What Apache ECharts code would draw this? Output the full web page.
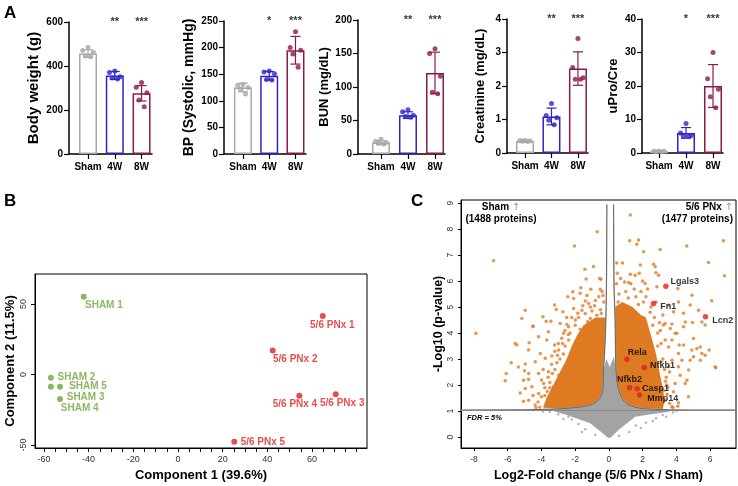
<!DOCTYPE html>
<html><head><meta charset="utf-8">
<script src="https://cdn.jsdelivr.net/npm/echarts@6/dist/echarts.min.js"></script>
<style>html,body{margin:0;padding:0;background:#fff}#c{width:738px;height:486px}</style>
</head><body><div id="c"></div>
<script>
const FONT = 'Liberation Sans, Arial, sans-serif';

// ---------- Panel A data ----------
const groups = ['Sham', '4W', '8W'];
const groupColors = ['#a8a8a8', '#3024c8', '#8b1a4b'];
const jitter = [0, -0.2, 0.2, -0.1, 0.1];

const bwMean = [457, 357, 276];
const bwSD = [17, 18, 35];
const bwPts = [[485, 470, 462, 445, 442], [377, 370, 351, 345, 341], [325, 303, 278, 245, 215]];
const bwStars = ['', '**', '***'];

const bpMean = [125, 147, 195];
const bpSD = [8, 8, 26];
const bpPts = [[131, 129, 125, 122, 113], [156, 154, 151, 140, 139], [230, 200, 195, 188, 163]];
const bpStars = ['', '*', '***'];

const bunMean = [17, 58, 121];
const bunSD = [3, 5, 31];
const bunPts = [[22, 19, 17, 16, 15], [66, 63, 58, 56, 55], [157, 150, 116, 92, 90]];
const bunStars = ['', '**', '***'];

const crMean = [0.36, 1.09, 2.52];
const crSD = [0.03, 0.25, 0.5];
const crPts = [[0.38, 0.37, 0.36, 0.35, 0.34], [1.48, 1.12, 1.05, 0.98, 0.84], [3.42, 2.55, 2.25, 2.2, 2.2]];
const crStars = ['', '**', '***'];

const upMean = [0.5, 6, 20];
const upSD = [0.2, 1.6, 6.4];
const upPts = [[0.6, 0.5, 0.5, 0.4, 0.4], [8.8, 6, 5.2, 5.1, 5], [30, 22.2, 19, 16.8, 13.5]];
const upStars = ['', '*', '***'];

const titlesA = ['Body weight (g)', 'BP (Systolic, mmHg)', 'BUN (mg/dL)', 'Creatinine (mg/dL)', 'uPro/Cre'];
const maxA = [600, 250, 200, 4, 40];
const intervalA = [200, 50, 50, 1, 10];

// ---------- Panel B data ----------
const shamNames = ['SHAM 1', 'SHAM 2', 'SHAM 3', 'SHAM 4', 'SHAM 5'];
const shamX = [-42.2, -56.9, -52.8, -56.9, -52.8];
const shamY = [55.2, -2.3, -17.4, -8.6, -8.6];
const pnxNames = ['5/6 PNx 1', '5/6 PNx 2', '5/6 PNx 3', '5/6 PNx 4', '5/6 PNx 5'];
const pnxX = [64.8, 42.4, 70.6, 54.3, 25.2];
const pnxY = [41.5, 17.0, -13.9, -15.1, -47.6];
const pcaXTicks = [-60, -55, -50, -45, -40, -35, -30, -25, -20, -15, -10, -5, 0, 5, 10, 15, 20, 25, 30, 35, 40, 45, 50, 55, 60, 65, 70, 75, 80];
const pcaXLabels = [-60, -40, -20, 0, 20, 40, 60];
const pcaYLabels = [-50, 0, 50];

// ---------- Panel C data ----------
const fdrLevel = 1.04;
const curveLeft = [[-0.12, 8.95], [-0.14, 6], [-0.18, 4.5], [-0.25, 3.3], [-0.32, 2.58], [-0.37, 1.74], [-0.61, 1.42], [-1.1, 1.23], [-1.9, 1.14], [-3.08, 1.08], [-5.06, 1.05], [-8.77, 1.04]];
const curveRight = [[0.28, 8.95], [0.3, 6], [0.37, 4.5], [0.42, 2.58], [0.53, 1.94], [0.77, 1.49], [1.17, 1.23], [1.96, 1.1], [3.54, 1.05], [7.54, 1.04]];
const grayCloud = [[-0.05, -0.03], [-0.35, 0.14], [-1.1, 0.53], [-2.5, 0.85], [-3.3, 1.0], [-3.08, 1.08], [-1.9, 1.14], [-1.1, 1.23], [-0.61, 1.42], [-0.37, 1.74], [-0.32, 2.58], [-0.15, 3.0], [0.05, 2.7], [0.3, 3.1], [0.42, 2.58], [0.53, 1.94], [0.77, 1.49], [1.17, 1.23], [1.96, 1.1], [3.54, 1.04], [3.6, 0.97], [2.5, 0.88], [1.56, 0.78], [0.57, 0.27], [0.1, -0.03]];
const grayPts = [[-3.5, 0.97], [-3.0, 0.88], [-2.7, 0.7], [-2.2, 0.68], [-1.8, 0.5], [-1.4, 0.3], [3.8, 0.95], [3.2, 0.85], [2.8, 0.72], [2.2, 0.55], [1.6, 0.45], [1.2, 0.2], [-0.8, 0.08], [0.6, 0.05], [-2.9, 1.0], [4.0, 1.0], [-3.9, 0.98], [-2.4, 0.78], [2.6, 0.62], [3.4, 0.78], [-1.6, 0.2], [1.9, 0.35]];
const denseLeft = [[-0.18, 4.6], [-0.8, 4.6], [-1.5, 4.3], [-1.9, 3.9], [-2.2, 3.5], [-2.5, 3.0], [-2.9, 2.5], [-3.3, 2.0], [-3.7, 1.5], [-3.9, 1.15], [-3.08, 1.08], [-1.9, 1.14], [-1.1, 1.23], [-0.61, 1.42], [-0.37, 1.74], [-0.32, 2.58], [-0.25, 3.3], [-0.18, 4.5]];
const denseRight = [[0.37, 5.0], [0.8, 5.2], [1.4, 5.0], [1.9, 4.7], [2.2, 4.6], [2.5, 3.9], [2.8, 3.2], [3.0, 2.5], [3.2, 1.9], [3.3, 1.4], [3.2, 1.08], [1.96, 1.1], [1.17, 1.23], [0.77, 1.49], [0.53, 1.94], [0.42, 2.58], [0.37, 4.5]];
const orangePts = [
  [-7.89, 3.99], [-6.84, 6.78], [-5.56, 3.6], [-5.46, 3.54], [-5.79, 2.86], [-6.09, 2.45], [-6.15, 2.17], [-4.96, 2.81], [-5.0, 2.55], [-4.73, 3.63], [-4.51, 4.24], [-5.26, 1.7], [-5.06, 1.38], [-4.76, 2.22], [-4.33, 1.13], [-4.96, 1.87],
  [-2.04, 7.35], [-0.69, 7.9], [-1.42, 6.46], [-0.91, 6.56], [-1.35, 6.08], [-0.55, 6.1], [-0.47, 6.07], [-1.66, 5.74], [-0.51, 5.69], [-1.07, 5.69], [-2.14, 5.59], [-1.7, 5.53], [-2.43, 5.4], [-2.09, 5.33], [-1.4, 5.23], [-1.2, 5.14], [-3.22, 5.08], [-3.12, 4.91], [-2.73, 4.82], [-4.96, 4.88], [-2.09, 4.95], [-1.84, 4.76], [-1.6, 4.88], [-5.16, 4.56], [-3.91, 4.63], [-3.72, 4.46], [-3.44, 4.46], [-2.49, 4.33], [-1.1, 4.56], [-0.91, 4.46], [-0.71, 4.69],
  [-4.49, 4.27], [-3.58, 4.05], [-4.17, 3.86], [-3.68, 3.73], [-3.22, 3.54], [-2.98, 3.35], [-4.07, 3.22], [-3.77, 3.03], [-3.38, 3.12], [-4.76, 3.35], [-4.37, 2.9], [-3.08, 2.86], [-4.17, 2.45], [-3.58, 2.51], [-2.98, 2.38], [-3.87, 2.06], [-3.28, 1.94], [-4.57, 1.94], [-4.17, 1.68], [-3.58, 1.49], [-4.76, 1.42], [-4.37, 1.23], [-3.28, 1.29], [-3.77, 1.17], [-2.69, 3.99], [-2.39, 4.24], [-2.89, 4.37], [-1.99, 4.5], [-4.76, 2.45], [-5.06, 2.19], [-5.36, 2.7], [-2.39, 3.73],
  [-2.6, 4.1], [-2.8, 3.8], [-3.0, 3.6], [-3.2, 3.3], [-3.4, 2.8], [-3.6, 2.3], [-3.8, 1.9], [-4.0, 1.55], [-4.2, 1.35], [-2.4, 3.95], [-2.0, 4.3], [-1.8, 4.6], [-1.4, 4.75], [-1.0, 4.85], [-0.5, 4.9], [-0.3, 5.2], [-0.6, 5.4], [-1.1, 5.0], [-2.7, 3.2], [-3.9, 2.6], [-4.5, 1.6], [-4.0, 2.2], [-3.1, 1.7], [-3.5, 1.9], [-2.5, 4.6], [-0.4, 5.6], [-0.8, 5.25], [-1.3, 5.45],
  [-2.3, 4.0], [-2.6, 3.5], [-2.9, 3.0], [-3.2, 2.6], [-3.5, 2.1], [-3.8, 1.6], [-4.1, 1.15], [-2.75, 3.6], [-3.05, 3.15], [-3.35, 2.45], [-3.65, 1.75], [-1.7, 4.15], [-1.25, 4.45], [-0.45, 4.75], [-2.2, 4.6], [-1.55, 5.05], [-0.85, 5.05], [-0.35, 5.45],
  [1.27, 8.54], [1.23, 7.55], [1.76, 7.58], [1.66, 7.42], [2.06, 7.13], [3.04, 7.22], [4.62, 7.35], [6.8, 7.55], [6.86, 6.21], [5.91, 6.72], [0.47, 6.7], [0.81, 6.7], [1.86, 6.62], [2.65, 6.65], [2.75, 6.55], [1.27, 6.26], [1.56, 6.23], [0.93, 5.97], [1.17, 5.95], [1.8, 6.3], [2.79, 6.32], [2.95, 6.23], [2.85, 5.78], [2.15, 5.91], [4.09, 5.72], [4.82, 5.08], [4.92, 5.46], [5.32, 4.88], [5.71, 4.31], [4.13, 5.2], [3.54, 5.08], [3.84, 4.82], [4.43, 4.76], [4.53, 4.43], [4.96, 4.41], [6.1, 5.24], [5.02, 3.79], [5.95, 3.35], [6.34, 2.67], [4.92, 3.35], [4.43, 3.54], [4.13, 3.22], [4.82, 2.96], [3.74, 3.73], [4.03, 3.99], [3.64, 4.18], [3.34, 4.37], [4.43, 4.24], [4.23, 2.38], [3.93, 2.06], [4.53, 2.06], [3.83, 1.74], [4.72, 1.55], [4.13, 1.32], [3.74, 1.17], [3.34, 1.42], [5.42, 3.47], [5.42, 2.96], [5.71, 3.15], [3.24, 4.31], [3.74, 4.35], [5.52, 4.43], [4.17, 3.54], [5.22, 3.41], [5.52, 3.22], [5.02, 3.09], [4.13, 2.71], [4.73, 2.58], [4.63, 2.19], [4.33, 2.96], [6.3, 2.71], [4.09, 1.19], [3.8, 1.14], [3.44, 2.0], [3.24, 1.78], [3.14, 1.55], [3.93, 3.99], [3.34, 3.73], [3.54, 3.47], [3.74, 2.96], [3.54, 2.71],
  [2.9, 4.0], [3.1, 3.6], [3.2, 3.0], [3.3, 2.6], [3.4, 2.3], [3.5, 1.9], [3.0, 4.4], [2.7, 4.6], [2.5, 5.0], [2.2, 5.4], [1.9, 5.6], [1.5, 5.7], [1.0, 5.6], [0.6, 5.5], [0.45, 5.9], [0.7, 6.1], [1.3, 5.9], [2.0, 6.0], [2.3, 5.7], [0.5, 6.3], [1.6, 5.4], [2.8, 5.2], [3.2, 4.7], [3.6, 1.3],
  [2.6, 4.3], [2.9, 3.5], [3.1, 2.9], [3.35, 2.15], [3.45, 1.65], [2.45, 4.8], [2.05, 5.2], [1.15, 5.35], [0.55, 5.2], [1.75, 5.1], [3.05, 4.1], [3.6, 2.5]
];
const geneNames = ['Lgals3', 'Fn1', 'Lcn2', 'Rela', 'Nfkb1', 'Nfkb2', 'Casp1', 'Mmp14'];
const geneX = [3.38, 2.65, 5.73, 1.07, 2.1, 1.23, 1.68, 1.82];
const geneY = [5.8, 5.14, 4.63, 2.99, 2.68, 1.9, 1.86, 1.62];
const volcXLabels = [-8, -6, -4, -2, 0, 2, 4, 6];
const volcYLabels = [0, 1, 2, 3, 4, 5, 6, 7, 8, 9];

// ---------- layout (positions / styles) ----------
const gridA = [
  {left: 69, right: 586, top: 22, bottom: 332, xmin: -0.71, xmax: 2.39, nameSize: 15, nameGap: 28},
  {left: 224, right: 432, top: 21, bottom: 332, xmin: -0.72, xmax: 2.4, nameSize: 14, nameGap: 28},
  {left: 358, right: 293, top: 20, bottom: 332, xmin: -0.85, xmax: 2.37, nameSize: 13, nameGap: 24},
  {left: 507, right: 150, top: 19, bottom: 333, xmin: -0.68, xmax: 2.38, nameSize: 13, nameGap: 20},
  {left: 642, right: 15, top: 19, bottom: 333, xmin: -0.63, xmax: 2.37, nameSize: 13, nameGap: 22}
];
const shamLabelOff = [[-1.7, 8.3], [3.7, -1], [3.7, -2.3], [7, 21.6], [6, 0]];
const pnxLabelOff = [[-15.7, 9.7], [-2.7, 9], [-18.7, 8.7], [-29.6, 8.3], [3.4, 1]];
const genePos = ['right', 'right', 'right', 'right', 'right', 'top', 'right', 'right'];
const geneOff = [[1, -5], [3, 3], [3, 4], [-3, -7], [2, -2], [0, 0], [1, 0], [4, 4]];

const meansA = [bwMean, bpMean, bunMean, crMean, upMean];
const sdA = [bwSD, bpSD, bunSD, crSD, upSD];
const ptsA = [bwPts, bpPts, bunPts, crPts, upPts];
const starsA = [bwStars, bpStars, bunStars, crStars, upStars];

const grids = [], xAxes = [], yAxes = [], series = [];

function errRender(params, api) {
  const x = api.value(0), lo = api.value(1), hi = api.value(2);
  const a = api.coord([x, hi]), b = api.coord([x, lo]);
  const c = groupColors[params.dataIndex];
  const w = 5, st = {stroke: c, lineWidth: 1.2, fill: 'none'};
  return {type: 'group', children: [
    {type: 'line', shape: {x1: a[0], y1: a[1], x2: b[0], y2: b[1]}, style: st},
    {type: 'line', shape: {x1: a[0] - w, y1: a[1], x2: a[0] + w, y2: a[1]}, style: st},
    {type: 'line', shape: {x1: b[0] - w, y1: b[1], x2: b[0] + w, y2: b[1]}, style: st}
  ]};
}

gridA.forEach((g, p) => {
  grids.push({left: g.left, right: g.right, top: g.top, bottom: g.bottom, containLabel: false, outerBoundsMode: 'none'});
  xAxes.push({gridIndex: p, type: 'value', min: g.xmin, max: g.xmax,
    axisLine: {show: true, onZero: false, lineStyle: {color: '#000', width: 1.5}},
    axisTick: {show: true, length: 5, lineStyle: {color: '#000', width: 1.2}, customValues: [0, 1, 2]},
    axisLabel: {customValues: [0, 1, 2], formatter: v => groups[Math.round(v)], color: '#000', fontWeight: 'bold', fontSize: 10, fontFamily: FONT, margin: 8},
    splitLine: {show: false}});
  yAxes.push({gridIndex: p, type: 'value', min: 0, max: maxA[p], interval: intervalA[p],
    name: titlesA[p], nameLocation: 'middle', nameRotate: 90, nameGap: g.nameGap,
    nameTextStyle: {fontWeight: 'bold', fontSize: g.nameSize, color: '#000', fontFamily: FONT},
    axisLine: {show: true, onZero: false, lineStyle: {color: '#000', width: 1.5}},
    axisTick: {show: true, length: 5, lineStyle: {color: '#000', width: 1.2}},
    axisLabel: {color: '#000', fontWeight: 'bold', fontSize: 10, fontFamily: FONT, margin: 6},
    splitLine: {show: false}});
  const mean = meansA[p], sd = sdA[p], pts = ptsA[p], stars = starsA[p];
  series.push({type: 'bar', xAxisIndex: p, yAxisIndex: p, barWidth: 18, silent: true,
    data: mean.map((m, i) => ({value: [i, m], itemStyle: {color: 'rgba(255,255,255,0)', borderColor: groupColors[i], borderWidth: 1.5}}))});
  series.push({type: 'custom', xAxisIndex: p, yAxisIndex: p, renderItem: errRender, z: 3,
    data: mean.map((m, i) => [i, m - sd[i], m + sd[i]])});
  pts.forEach((arr, i) => {
    series.push({type: 'scatter', xAxisIndex: p, yAxisIndex: p, symbolSize: 5, z: 4,
      itemStyle: {color: groupColors[i]},
      data: arr.map((v, k) => [i + jitter[k], v])});
  });
  series.push({type: 'scatter', xAxisIndex: p, yAxisIndex: p, symbolSize: 0, clip: false,
    data: stars.map((s, i) => ({value: [i, maxA[p]], label: {show: !!s, formatter: s, position: 'inside', offset: [0, 0], color: '#000', fontWeight: 'bold', fontSize: 11, fontFamily: FONT}}))});
});

// ---------- Panel B ----------
const gB = grids.length;
grids.push({left: 35, right: 371, top: 274, bottom: 38, show: true, borderColor: '#000', borderWidth: 1, backgroundColor: 'transparent', outerBoundsMode: 'none'});
xAxes.push({gridIndex: gB, type: 'value', min: -64, max: 84.6,
  name: 'Component 1 (39.6%)', nameLocation: 'middle', nameGap: 21,
  nameTextStyle: {fontWeight: 'bold', fontSize: 13, color: '#000', fontFamily: FONT},
  axisLine: {show: true, onZero: false, lineStyle: {color: '#000', width: 1}},
  axisTick: {show: true, length: 4, customValues: pcaXTicks, lineStyle: {color: '#000'}},
  axisLabel: {customValues: pcaXLabels, color: '#333', fontSize: 9, fontFamily: FONT, margin: 7},
  splitLine: {show: false}});
yAxes.push({gridIndex: gB, type: 'value', min: -52.1, max: 71.3,
  name: 'Component 2 (11.5%)', nameLocation: 'middle', nameRotate: 90, nameGap: 18,
  nameTextStyle: {fontWeight: 'bold', fontSize: 13, color: '#000', fontFamily: FONT},
  axisLine: {show: true, onZero: false, lineStyle: {color: '#000', width: 1}},
  axisTick: {show: true, length: 4, customValues: pcaYLabels, lineStyle: {color: '#000'}},
  axisLabel: {customValues: pcaYLabels, rotate: 90, color: '#333', fontSize: 9, fontFamily: FONT, margin: 7},
  splitLine: {show: false}});
const labB = (c) => ({show: true, position: 'right', distance: 0, color: c, fontWeight: 'bold', fontSize: 10, fontFamily: FONT});
series.push({type: 'scatter', xAxisIndex: gB, yAxisIndex: gB, symbolSize: 6, itemStyle: {color: '#6fa53b'},
  data: shamNames.map((n, i) => ({value: [shamX[i], shamY[i]], name: n, label: Object.assign(labB('#6fa53b'), {formatter: n, offset: shamLabelOff[i]})}))});
series.push({type: 'scatter', xAxisIndex: gB, yAxisIndex: gB, symbolSize: 6, itemStyle: {color: '#e0201f'},
  data: pnxNames.map((n, i) => ({value: [pnxX[i], pnxY[i]], name: n, label: Object.assign(labB('#e0201f'), {formatter: n, offset: pnxLabelOff[i]})}))});

// ---------- Panel C ----------
const gC = grids.length;
grids.push({left: 461, right: 2, top: 200, bottom: 38, show: true, borderColor: '#000', borderWidth: 1, backgroundColor: 'transparent', outerBoundsMode: 'none'});
xAxes.push({gridIndex: gC, type: 'value', min: -8.77, max: 7.54,
  name: 'Log2-Fold change (5/6 PNx / Sham)', nameLocation: 'middle', nameGap: 20,
  nameTextStyle: {fontWeight: 'bold', fontSize: 12.5, color: '#000', fontFamily: FONT},
  axisLine: {show: true, onZero: false, lineStyle: {color: '#000', width: 1}},
  axisTick: {show: true, length: 3, customValues: volcXLabels, lineStyle: {color: '#000'}},
  axisLabel: {customValues: volcXLabels, color: '#333', fontSize: 8.5, fontFamily: FONT, margin: 7},
  splitLine: {show: false}});
yAxes.push({gridIndex: gC, type: 'value', min: -0.42, max: 9.12,
  name: '-Log10 (p-value)', nameLocation: 'middle', nameRotate: 90, nameGap: 8,
  nameTextStyle: {fontWeight: 'bold', fontSize: 12.5, color: '#000', fontFamily: FONT},
  axisLine: {show: true, onZero: false, lineStyle: {color: '#000', width: 1}},
  axisTick: {show: true, length: 3, customValues: volcYLabels, lineStyle: {color: '#000'}},
  axisLabel: {customValues: volcYLabels, rotate: 90, color: '#333', fontSize: 8.5, fontFamily: FONT, margin: 6},
  splitLine: {show: false}});

function polySeries(poly, fill, z) {
  return {type: 'custom', xAxisIndex: gC, yAxisIndex: gC, z: z, silent: true, clip: true,
    data: [[poly[0][0], poly[0][1]]],
    renderItem: (params, api) => ({type: 'polygon', shape: {points: poly.map(p => api.coord(p))}, style: {fill: fill, stroke: 'none'}})};
}
function curveSeries(pts, color, width, z) {
  return {type: 'custom', xAxisIndex: gC, yAxisIndex: gC, z: z, silent: true, clip: true,
    data: [[pts[0][0], pts[0][1]]],
    renderItem: (params, api) => ({type: 'polyline', shape: {points: pts.map(p => api.coord(p)), smooth: 0.25}, style: {fill: 'none', stroke: color, lineWidth: width}})};
}
series.push(polySeries(grayCloud, '#a3a3a3', 1));
series.push({type: 'scatter', xAxisIndex: gC, yAxisIndex: gC, symbolSize: 2.5, z: 1, itemStyle: {color: '#a3a3a3'}, data: grayPts});
series.push(polySeries(denseLeft, '#dd7a22', 2));
series.push(polySeries(denseRight, '#dd7a22', 2));
series.push({type: 'scatter', xAxisIndex: gC, yAxisIndex: gC, symbolSize: 3.5, z: 2, itemStyle: {color: '#e07c23'}, data: orangePts,
  markLine: {silent: true, symbol: 'none', label: {show: false}, lineStyle: {color: '#888', width: 1, type: 'solid'}, data: [{yAxis: fdrLevel}]}});
series.push(curveSeries(curveLeft, '#b4b4b4', 1.3, 3));
series.push(curveSeries(curveRight, '#b4b4b4', 1.3, 3));
series.push(curveSeries(curveLeft, '#333', 0.6, 3));
series.push(curveSeries(curveRight, '#333', 0.6, 3));
series.push({type: 'scatter', xAxisIndex: gC, yAxisIndex: gC, symbolSize: 5.5, z: 5, itemStyle: {color: '#e0201f'},
  data: geneNames.map((n, i) => ({value: [geneX[i], geneY[i]], label: {show: true, formatter: n, position: genePos[i], distance: 1, offset: geneOff[i], color: '#000', fontWeight: 'bold', fontSize: 9, fontFamily: FONT}}))});

const txt = (x, y, text, o) => ({type: 'text', left: x, top: y, style: Object.assign({text: text, fill: '#000', font: 'bold 10px ' + FONT}, o || {})});

const option = {
  animation: false,
  grid: grids, xAxis: xAxes, yAxis: yAxes, series: series,
  graphic: [
    txt(4, 5, 'A', {font: 'bold 17px ' + FONT}),
    txt(4, 193, 'B', {font: 'bold 17px ' + FONT}),
    txt(411, 193, 'C', {font: 'bold 17px ' + FONT}),
    {type: 'text', x: 501, y: 207, style: {text: '{b|Sham }{g|↑}', align: 'center', verticalAlign: 'middle', rich: {b: {font: 'bold 10px ' + FONT, fill: '#000'}, g: {font: '10px DejaVu Sans', fill: '#999'}}}},
    {type: 'text', x: 501, y: 219, style: {text: '(1488 proteins)', align: 'center', verticalAlign: 'middle', font: 'bold 10px ' + FONT, fill: '#000'}},
    {type: 'text', x: 733, y: 207, style: {text: '{b|5/6 PNx }{g|↑}', align: 'right', verticalAlign: 'middle', rich: {b: {font: 'bold 10px ' + FONT, fill: '#000'}, g: {font: '10px DejaVu Sans', fill: '#999'}}}},
    {type: 'text', x: 733, y: 219, style: {text: '(1477 proteins)', align: 'right', verticalAlign: 'middle', font: 'bold 10px ' + FONT, fill: '#000'}},
    {type: 'text', x: 467, y: 418, style: {text: 'FDR = 5%', align: 'left', verticalAlign: 'middle', font: 'italic bold 7.5px ' + FONT, fill: '#000'}}
  ]
};
const chart = echarts.init(document.getElementById('c'), null, {renderer: 'canvas'});
chart.setOption(option);
</script></body></html>
